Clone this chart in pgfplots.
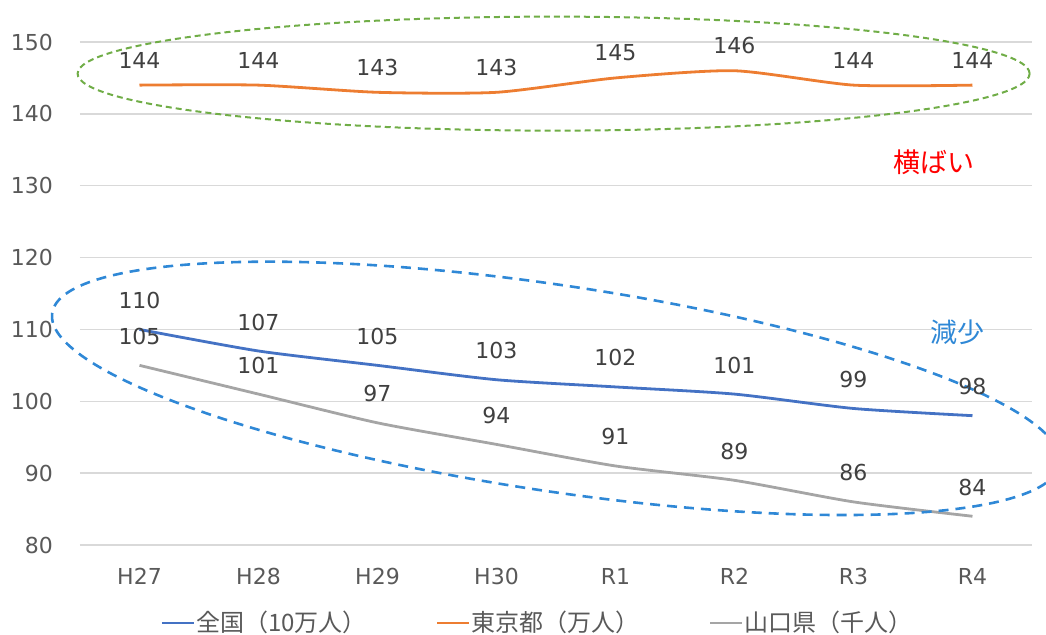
\documentclass[border=0pt]{standalone}
\usepackage{fontspec}
\setmainfont{DejaVu Sans}
\newfontfamily\jp{Noto Sans CJK JP}
\usepackage{pgfplots}
\pgfplotsset{compat=1.18}
\definecolor{cblue}{HTML}{4472C4}
\definecolor{corange}{HTML}{ED7D31}
\definecolor{cgray}{HTML}{A5A5A5}
\definecolor{gridgray}{HTML}{D9D9D9}
\definecolor{labgray}{HTML}{595959}
\definecolor{dgray}{HTML}{404040}
\definecolor{egreen}{HTML}{70AD47}
\definecolor{eblue}{HTML}{2F88D6}
\begin{document}
\begin{tikzpicture}
\path[use as bounding box] (-40pt,-44.5pt) rectangle (483pt,272.5pt);
\begin{axis}[
  scale only axis, width=476pt, height=251.5pt,
  xmin=-0.5, xmax=7.5, ymin=80, ymax=150,
  xtick={0,...,7}, xticklabels={H27,H28,H29,H30,R1,R2,R3,R4},
  ytick={80,90,...,150},
  ymajorgrids, grid style={draw=gridgray, line width=0.7pt},
  axis line style={draw=none},
  major tick length=0pt,
  tick label style={font=\fontsize{11}{13}\selectfont, text=labgray},
  /pgf/number format/assume math mode=true,
  yticklabel style={xshift=-10pt},
  xticklabel style={yshift=-8pt},
  clip=false,
  legend columns=3,
  legend cell align=left,
  legend style={at={(0.48,-0.155)}, anchor=center, draw=none, fill=none,
    font=\jp\fontsize{12}{14}\selectfont, text=labgray,
    nodes={inner xsep=0.5pt},
    /tikz/every even column/.append style={column sep=34pt}},
  legend image code/.code={\draw[#1, line width=1.4pt] (0pt,0pt) -- (16pt,0pt);},
  nodes near coords,
  every node near coord/.append style={font=\fontsize{11}{13}\selectfont, text=dgray, anchor=center},
]
\addplot[cblue, line width=1.4pt, smooth, tension=0.4, no markers,
  every node near coord/.append style={yshift=14.5pt}] coordinates {
  (0,110) (1,107) (2,105) (3,103) (4,102) (5,101) (6,99) (7,98)};
\addlegendentry{全国（10万人）}
\addplot[corange, line width=1.4pt, smooth, tension=0.4, no markers,
  every node near coord/.append style={yshift=12.5pt}] coordinates {
  (0,144) (1,144) (2,143) (3,143) (4,145) (5,146) (6,144) (7,144)};
\addlegendentry{東京都（万人）}
\addplot[cgray, line width=1.4pt, smooth, tension=0.4, no markers,
  every node near coord/.append style={yshift=14.5pt}] coordinates {
  (0,105) (1,101) (2,97) (3,94) (4,91) (5,89) (6,86) (7,84)};
\addlegendentry{山口県（千人）}
\draw[egreen, line width=1pt, dash pattern=on 3pt off 2pt] (axis cs:3.48,145.6) ellipse [x radius=238pt, y radius=28.5pt];
\draw[eblue, line width=1.3pt, dash pattern=on 5pt off 3.5pt, rotate around={-8.5:(axis cs:3.5,101.8)}] (axis cs:3.5,101.8) ellipse [x radius=254.7pt, y radius=51.5pt];
\node[text=red, font=\jp\fontsize{13.5}{15}\selectfont] at (axis cs:6.68,133.2) {横ばい};
\node[text=eblue, font=\jp\fontsize{13.5}{15}\selectfont] at (axis cs:6.87,109.6) {減少};
\end{axis}
\end{tikzpicture}
\end{document}
